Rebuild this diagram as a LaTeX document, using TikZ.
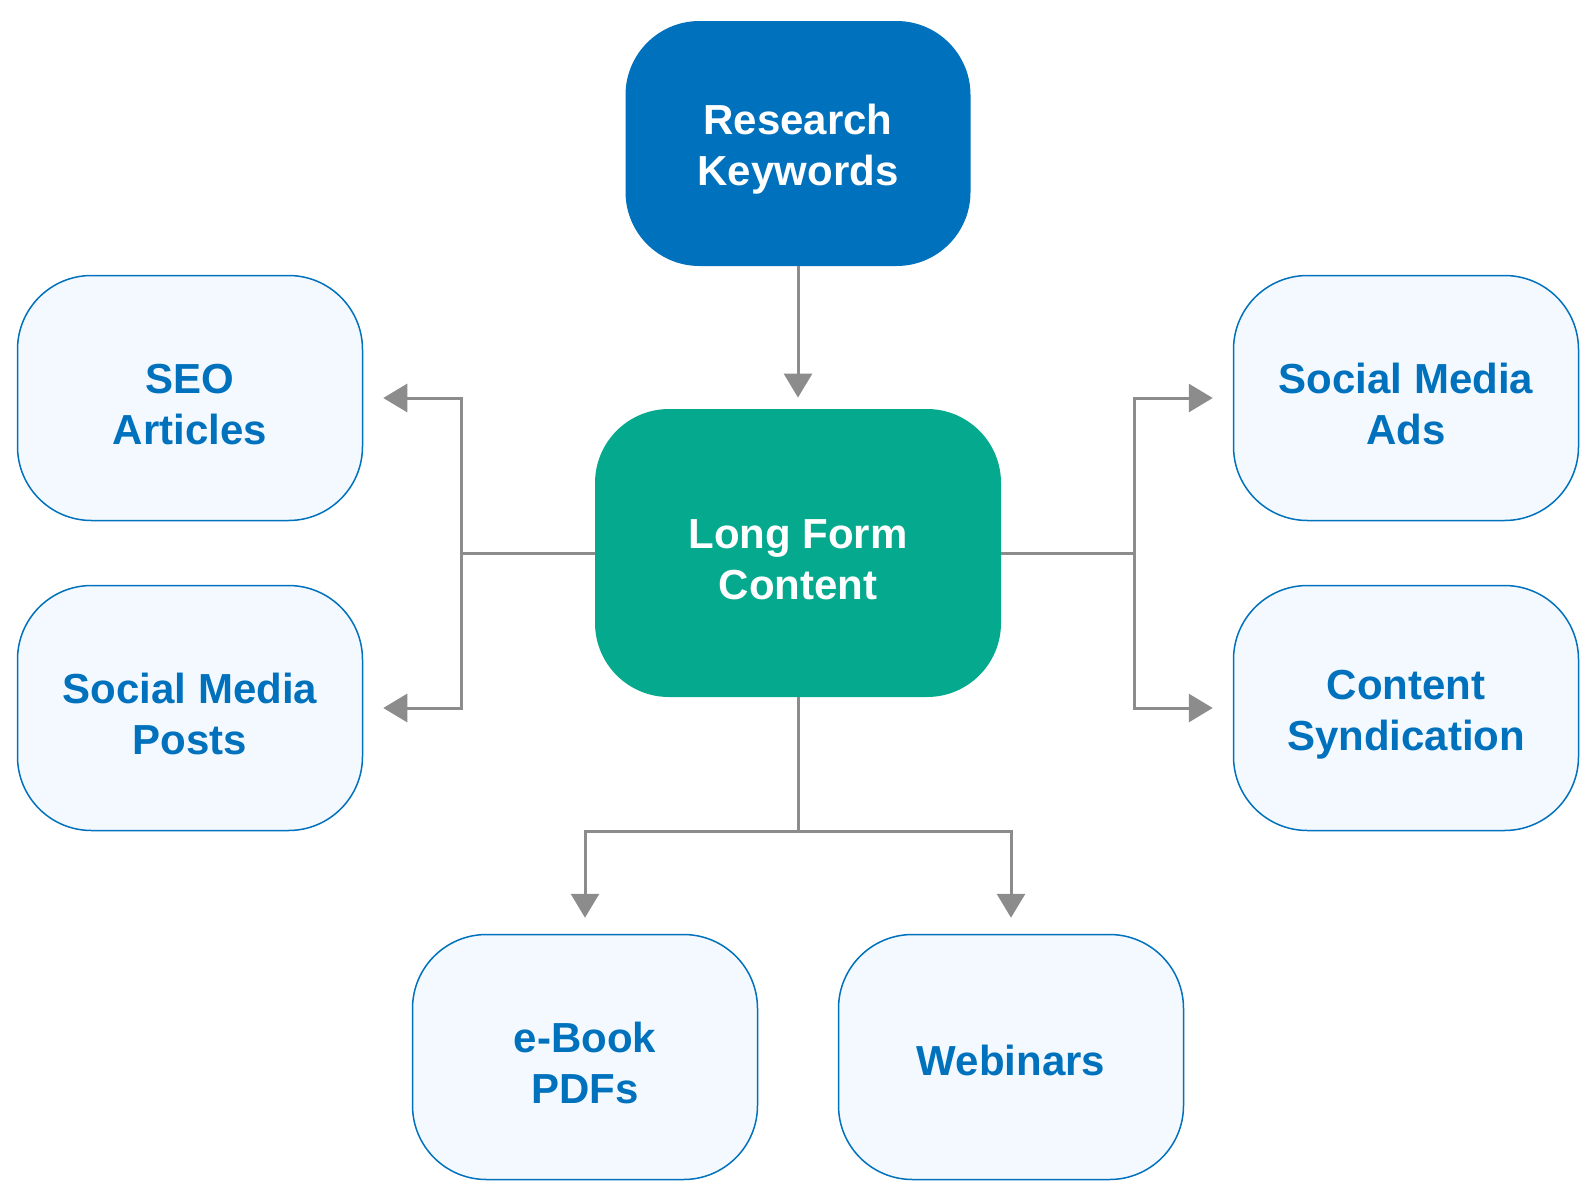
\documentclass[tikz,border=0pt]{standalone}
\usepackage{fontspec}
\setmainfont{Liberation Sans}
\usetikzlibrary{shapes,arrows.meta,positioning,calc}
\definecolor{keyblue}{RGB}{0,113,188}
\definecolor{longgreen}{RGB}{4,169,142}
\definecolor{paleblue}{RGB}{243,249,254}
\definecolor{linkgray}{RGB}{140,140,140}

\begin{document}
\begin{tikzpicture}[x=0.5pt, y=-0.5pt, font=\fontsize{21}{25.5}\selectfont\bfseries]
    \tikzstyle{source} = [rectangle, rounded corners=37pt, fill=keyblue, text=white, align=center, text height=46.5pt, minimum width=172.5pt, minimum height=122.5pt]
    \tikzstyle{hub} = [rectangle, rounded corners=37pt, fill=longgreen, text=white, align=center, text height=46.5pt, minimum width=203pt, minimum height=144pt]
    \tikzstyle{output} = [rectangle, rounded corners=37pt, draw=keyblue, line width=0.75pt, fill=paleblue, text=keyblue, align=center, text height=46.5pt, minimum width=172.5pt, minimum height=122.5pt]
    \tikzstyle{arrow} = [draw=linkgray, line width=1.5pt, -{Triangle[width=14pt,length=12pt]}]
    \useasboundingbox (0,0) rectangle (1595,1199);

    % Keyword research
    \node[source] (research) at (798,143.5) {Research\\Keywords};

    % Long form content
    \node[hub] (longform) at (798,553) {Long Form\\Content};

    % Left outputs
    \node[output] (seo) at (190,398) {SEO\\Articles};
    \node[output] (posts) at (190,708) {Social Media\\Posts};

    % Right outputs
    \node[output] (ads) at (1406,398) {Social Media\\Ads};
    \node[output] (syndication) at (1406,708) {Content\\Syndication};

    % Bottom outputs
    \node[output] (ebook) at (585,1057) {e-Book\\PDFs};
    \node[output, text height=18.5pt] (webinars) at (1011,1057) {Webinars};

    % Arrows
    \draw[arrow, shorten >=5.5pt] (research.south) -- (longform.north);
    \draw[arrow, shorten >=10pt] (longform.west) -- ++(-133,0) |- (seo.east);
    \draw[arrow, shorten >=10pt] (longform.west) -- ++(-133,0) |- (posts.east);
    \draw[arrow, shorten >=10pt] (longform.east) -- ++(133,0) |- (ads.west);
    \draw[arrow, shorten >=10pt] (longform.east) -- ++(133,0) |- (syndication.west);
    \draw[arrow, shorten >=8pt] (longform.south) -- ++(0,134) -| (ebook.north);
    \draw[arrow, shorten >=8pt] (longform.south) -- ++(0,134) -| (webinars.north);
\end{tikzpicture}
\end{document}
